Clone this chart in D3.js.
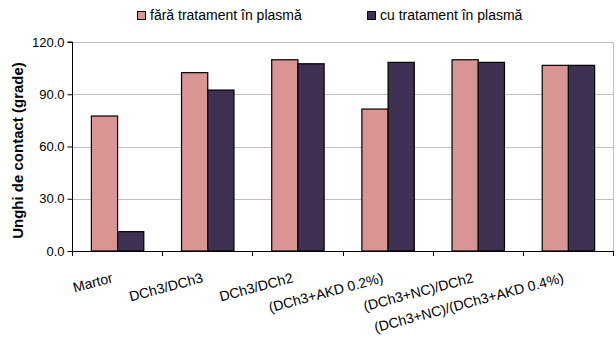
<!DOCTYPE html>
<html>
<head>
<meta charset="utf-8">
<script src="https://cdn.jsdelivr.net/npm/d3@7"></script>
<style>
  html, body { margin: 0; padding: 0; background: #fff; }
  svg { display: block; font-family: "Liberation Sans", Arial, sans-serif; }
</style>
</head>
<body>
<svg id="chart" width="616" height="340"></svg>
<script>
const categories = ["Martor", "DCh3/DCh3", "DCh3/DCh2", "(DCh3+AKD 0.2%)", "(DCh3+NC)/DCh2", "(DCh3+NC)/(DCh3+AKD 0.4%)"];
const seriesNames = ["fără tratament în plasmă", "cu tratament în plasmă"];
const seriesFara = [77.5, 102.4, 109.8, 81.5, 109.8, 106.6];
const seriesCu = [11.1, 92.4, 107.5, 108.3, 108.3, 106.6];
const yTicks = [0, 30, 60, 90, 120];
const yTitle = "Unghi de contact (grade)";
const colors = ["#D99594", "#3F3151"];

(function () {
const svg = d3.select("#chart");
const pLeft = 72, pRight = 613, pTop = 42, pBottom = 251;

const x = d3.scaleBand().domain(categories).range([pLeft, pRight]).paddingInner(0).paddingOuter(0);
const x1 = d3.scaleBand().domain([0, 1]).range([0, x.bandwidth()]).paddingInner(0).paddingOuter(0.72);
const y = d3.scaleLinear().domain([0, 120]).range([pBottom, pTop]);

// gridlines
svg.append("g").selectAll("line").data(yTicks.filter(d => d > 0)).join("line")
  .attr("x1", pLeft).attr("x2", pRight)
  .attr("y1", d => Math.round(y(d)) + 0.5).attr("y2", d => Math.round(y(d)) + 0.5)
  .attr("stroke", "#c0c0c0").attr("stroke-width", 1);
// right border
svg.append("line").attr("x1", pRight + 0.5).attr("x2", pRight + 0.5)
  .attr("y1", Math.round(y(120)) + 0.5).attr("y2", pBottom)
  .attr("stroke", "#c0c0c0");

// bars
const data = categories.map((c, i) => ({ c, vals: [seriesFara[i], seriesCu[i]] }));
const groups = svg.append("g").selectAll("g").data(data).join("g")
  .attr("transform", d => `translate(${x(d.c)},0)`);
groups.selectAll("rect").data(d => d.vals.map((v, k) => ({ v, k }))).join("rect")
  .attr("x", d => x1(d.k) + 0.5)
  .attr("width", x1.bandwidth())
  .attr("y", d => y(d.v))
  .attr("height", d => pBottom - y(d.v))
  .attr("fill", d => colors[d.k])
  .attr("stroke", "#000").attr("stroke-width", 1.2);

// y axis
const yAxis = d3.axisLeft(y).tickValues(yTicks).tickFormat(d3.format(".1f")).tickSize(5).tickPadding(3);
const gy = svg.append("g").attr("transform", `translate(${pLeft + 0.5},0)`).call(yAxis);
gy.select(".domain").attr("stroke", "#000").attr("d", `M-5,${y(120)}H0V${pBottom}`);
gy.selectAll(".tick line").attr("stroke", "#000");
gy.selectAll("text").attr("font-size", 13).attr("fill", "#000")
  .attr("font-family", "Liberation Sans, Arial, sans-serif");

// x axis line with ticks at band boundaries
const boundaries = categories.map(c => x(c)).concat([pRight]);
svg.append("line").attr("x1", pLeft).attr("x2", pRight + 1)
  .attr("y1", pBottom + 0.5).attr("y2", pBottom + 0.5).attr("stroke", "#000");
svg.append("g").selectAll("line").data(boundaries).join("line")
  .attr("x1", d => Math.round(d) + 0.5).attr("x2", d => Math.round(d) + 0.5)
  .attr("y1", pBottom).attr("y2", pBottom + 5).attr("stroke", "#000");

// x labels
svg.append("g").selectAll("text").data(categories).join("text")
  .attr("transform", d => `translate(${x(d) + x.bandwidth() / 2 - 3.5},282) rotate(-15)`)
  .attr("text-anchor", "end")
  .attr("font-size", 14)
  .attr("fill", "#000")
  .text(d => d);

// y title
svg.append("text")
  .attr("transform", `translate(23,${(pTop + pBottom) / 2 + 4}) rotate(-90)`)
  .attr("text-anchor", "middle")
  .attr("font-size", 15).attr("font-weight", "bold").attr("fill", "#000")
  .text(yTitle);

// legend
const legendX = [137, 367];
const lg = svg.append("g").selectAll("g").data(seriesNames).join("g")
  .attr("transform", (d, i) => `translate(${legendX[i]},0)`);
lg.append("rect").attr("x", 0.5).attr("y", 11.5).attr("width", 8).attr("height", 8)
  .attr("fill", (d, i) => colors[i]).attr("stroke", "#000").attr("stroke-width", 1);
lg.append("text").attr("x", 13).attr("y", 20).attr("font-size", 14).attr("fill", "#000").text(d => d);
})();
</script>
</body>
</html>
